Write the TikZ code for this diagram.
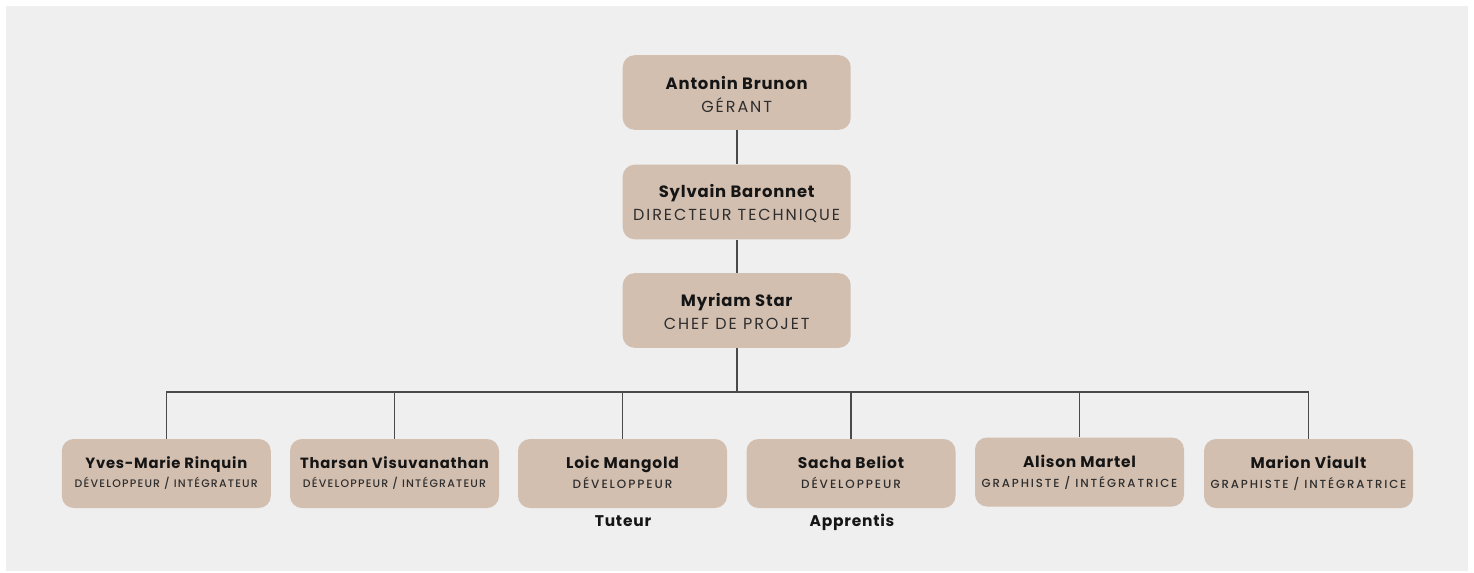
\documentclass[tikz,border=0pt]{standalone}
\usepackage{fontspec}
\usetikzlibrary{calc}
\setmainfont{Poppins}
\newfontfamily\namefont{Poppins}[UprightFont=* Bold,LetterSpace=5]
\newfontfamily\titlefont{Poppins}[LetterSpace=12]
\newfontfamily\smalltitlefont{Poppins}[UprightFont=* Medium,LetterSpace=11]
\newfontfamily\devfont{Poppins}[UprightFont=* Medium,LetterSpace=16]
\newfontfamily\graphfont{Poppins}[UprightFont=* Medium,LetterSpace=16]
\definecolor{bgc}{HTML}{EFEFEF}
\definecolor{boxc}{HTML}{D3BFB0}
\definecolor{linec}{HTML}{4A4A4A}
\definecolor{namec}{HTML}{151515}
\definecolor{titlec}{HTML}{2E2E2E}
\begin{document}
\begin{tikzpicture}[x=0.75pt,y=-0.75pt,
  bigbox/.style={fill=boxc,rounded corners=9pt,minimum width=171pt,minimum height=56pt,inner sep=0pt},
  smallbox/.style={fill=boxc,rounded corners=9pt,minimum width=156.75pt,minimum height=51.75pt,inner sep=0pt},
  nametext/.style={anchor=base,inner sep=0pt,text=namec,font=\namefont\fontsize{11.6pt}{13pt}\selectfont},
  bigname/.style={nametext,font=\namefont\fontsize{12.3pt}{14pt}\selectfont},
  longname/.style={nametext,font=\namefont\fontsize{11.1pt}{13pt}\selectfont},
  bigtitle/.style={anchor=base,inner sep=0pt,text=titlec,font=\titlefont\fontsize{12pt}{14pt}\selectfont},
  smalltitle/.style={anchor=base,inner sep=0pt,text=titlec,font=\smalltitlefont\fontsize{8.2pt}{9pt}\selectfont},
  devtitle/.style={smalltitle,font=\devfont\fontsize{9pt}{10pt}\selectfont},
  graphtitle/.style={smalltitle,font=\graphfont\fontsize{8.8pt}{10pt}\selectfont},
  link/.style={draw=linec,line width=1.2pt}
]
\useasboundingbox (0,0) rectangle (1474,572);
\fill[white] (0,0) rectangle (1474,572);
\fill[bgc] (6,6) rectangle (1468,571);

% top chain
\node[bigbox] (a) at (736.7,92.5) {};
\node[bigname] (an) at ($(a.center)+(0,-3)$) {Antonin Brunon};
\node[bigtitle] (at) at ($(a.center)+(0,19.8)$) {GÉRANT};

\node[bigbox] (b) at (736.7,202) {};
\node[bigname] (bn) at ($(b.center)+(0,-4.5)$) {Sylvain Baronnet};
\node[bigtitle] (bt) at ($(b.center)+(0,18.5)$) {DIRECTEUR TECHNIQUE};

\node[bigbox] (c) at (736.7,310.5) {};
\node[bigname] (cn) at ($(c.center)+(0,-4)$) {Myriam Star};
\node[bigtitle] (ct) at ($(c.center)+(0,19)$) {CHEF DE PROJET};

% bottom row
\node[smallbox] (d1) at (166.3,473.5) {};
\node[smallbox] (d2) at (394.5,473.5) {};
\node[smallbox] (d3) at (622.5,473.5) {};
\node[smallbox] (d4) at (851,473.5) {};
\node[smallbox] (d5) at (1079.5,472) {};
\node[smallbox] (d6) at (1308.5,473.5) {};

\node[longname] (d1n) at ($(d1.center)+(0,-4.8)$) {Yves-Marie Rinquin};
\node[smalltitle] (d1t) at ($(d1.center)+(0,14)$) {DÉVELOPPEUR / INTÉGRATEUR};
\node[longname] (d2n) at ($(d2.center)+(0,-4.8)$) {Tharsan Visuvanathan};
\node[smalltitle] (d2t) at ($(d2.center)+(0,14)$) {DÉVELOPPEUR / INTÉGRATEUR};
\node[nametext] (d3n) at ($(d3.center)+(0,-5)$) {Loic Mangold};
\node[devtitle] (d3t) at ($(d3.center)+(0,15)$) {DÉVELOPPEUR};
\node[nametext] (d4n) at ($(d4.center)+(0,-5)$) {Sacha Beliot};
\node[devtitle] (d4t) at ($(d4.center)+(0,15)$) {DÉVELOPPEUR};
\node[nametext] (d5n) at ($(d5.center)+(0,-4.7)$) {Alison Martel};
\node[graphtitle] (d5t) at ($(d5.center)+(0,15.2)$) {GRAPHISTE / INTÉGRATRICE};
\node[nametext] (d6n) at ($(d6.center)+(0,-4.7)$) {Marion Viault};
\node[graphtitle] (d6t) at ($(d6.center)+(0,15.2)$) {GRAPHISTE / INTÉGRATRICE};

\node[nametext] (tut) at (623,526) {Tuteur};
\node[nametext] (app) at (852,526) {Apprentis};

% connectors
\coordinate (bus) at (0,391.7);
\draw[link] (a.south) -- (b.north);
\draw[link] (b.south) -- (c.north);
\draw[link] (c.south) -- (c.south |- bus);
\draw[link] (d1.north) -- (d1.north |- bus) -- (d6.north |- bus) -- (d6.north);
\foreach \k in {d2,d3,d4,d5}{\draw[link] (\k.north) -- (\k.north |- bus);}
\end{tikzpicture}
\end{document}
